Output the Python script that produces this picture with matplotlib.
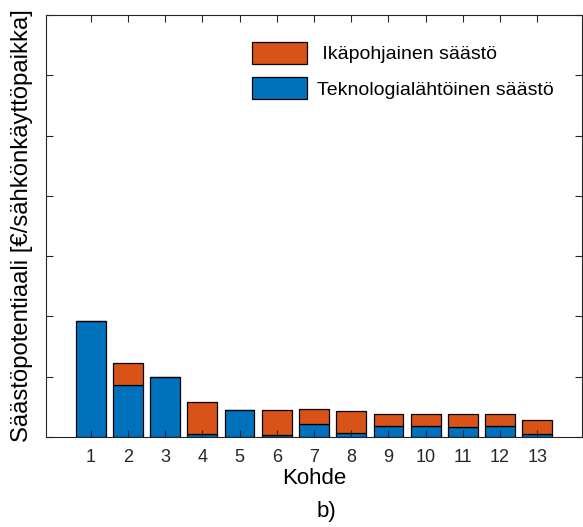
import matplotlib
matplotlib.use("Agg")
import matplotlib.pyplot as plt
import numpy as np

# Savings per site, split by source
kohteet = [str(i) for i in range(1, 14)]
tekno = [1.92, 0.86, 1.00, 0.055, 0.44, 0.035, 0.215, 0.06, 0.18, 0.18, 0.165, 0.18, 0.05]
ika = [0.00, 0.37, 0.00, 0.53, 0.00, 0.405, 0.245, 0.365, 0.205, 0.205, 0.21, 0.205, 0.24]
y_ticks = [0, 1, 2, 3, 4, 5, 6, 7]

BLUE = "#0072BD"
ORANGE = "#D95319"
DARK = "#262626"

plt.rcParams["font.family"] = ["Liberation Sans", "DejaVu Sans"]

fig = plt.figure(figsize=(5.83, 5.27), dpi=100)
ax = fig.add_axes([46 / 583, 90 / 527, 536 / 583, 422 / 527])

x = np.arange(1, len(kohteet) + 1)
b1 = ax.bar(x, tekno, width=0.8, color=BLUE, edgecolor="black", linewidth=0.9,
            label="Teknologialähtöinen säästö", zorder=2)
b2 = ax.bar(x, ika, width=0.8, bottom=tekno, color=ORANGE, edgecolor="black",
            linewidth=0.9, label="Ikäpohjainen säästö", zorder=2)

ax.set_xlim(-0.2, 14.2)
ax.set_ylim(0, 7)
ax.set_xticks(x)
ax.set_xticklabels(kohteet)
ax.set_yticks(y_ticks)
ax.set_yticklabels([])
ax.tick_params(direction="in", length=5, width=0.8, color=DARK,
               top=True, right=True, labelsize=13, labelcolor=DARK, pad=9)
for s in ax.spines.values():
    s.set_color(DARK)
    s.set_linewidth(0.8)
ax.set_axisbelow(False)

ax.set_xlabel("Kohde", fontsize=16, color="black", labelpad=1)
ax.set_ylabel("Säästöpotentiaali [€/sähkönkäyttöpaikka]", fontsize=17.2,
              color="black", labelpad=0)

leg = ax.legend([b2, b1], [" Ikäpohjainen säästö", "Teknologialähtöinen säästö"],
                loc="upper left", bbox_to_anchor=(252 / 583, 1 - 42 / 527),
                bbox_transform=fig.transFigure, frameon=False, fontsize=14,
                handlelength=2.83, handleheight=1.35, handletextpad=0.5,
                labelspacing=0.7, borderpad=0, borderaxespad=0)

fig.text(326 / 583, 1 - 511 / 527, "b)", ha="center", va="center", fontsize=16)

fig.savefig("out.png", dpi=100)
